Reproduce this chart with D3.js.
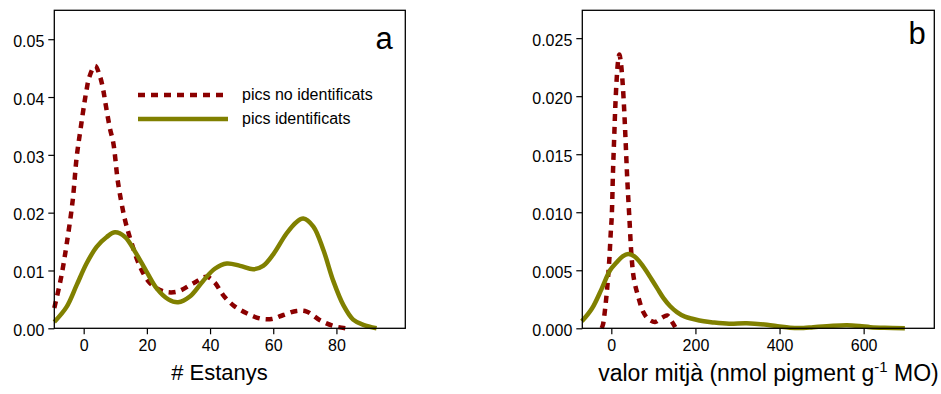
<!DOCTYPE html>
<html>
<head>
<meta charset="utf-8">
<script src="https://cdn.jsdelivr.net/npm/d3@7"></script>
<style>
  html, body { margin: 0; padding: 0; background: #fff; }
  svg { display: block; font-family: "Liberation Sans", Arial, sans-serif; }
</style>
</head>
<body>
<svg id="chart" width="941" height="394"></svg>
<script>
// ---- Panel a data (# Estanys) ----
const aNoIdX = [-9.3,-8,-7,-5.4,-3.5,-2.2,-0.95,0.2,0.9,1.8,3.6,5.2,6.2,6.9,8.3,9.4,10.9,13.1,15.2,17.8,21,25.2,29.4,34.7,38.9,41.5,44.2,47.3,51.6,55.8,59.5,63.2,67.4,70.6,74.8,79,83.2];
const aNoIdY = [0.0035,0.0066,0.0092,0.0145,0.022,0.0297,0.0346,0.0389,0.0412,0.0435,0.0454,0.0435,0.0412,0.0389,0.0346,0.032,0.0251,0.0187,0.0147,0.0107,0.0078,0.0064,0.0063,0.0078,0.0089,0.0079,0.0057,0.004,0.0026,0.0017,0.0016,0.0023,0.003,0.0029,0.0014,0.0004,0.0];
const aIdX = [-9.3,-5.4,-2.2,0.9,4.1,7.3,9.9,13.1,16.2,19.9,23.1,26.8,29.9,33.6,37.8,41.5,45.3,49.5,53.7,56.8,60,64.2,67.4,69.5,72.7,75.9,79,82.2,85.3,88.5,92.7];
const aIdY = [0.0011,0.0037,0.0075,0.0112,0.0141,0.0158,0.0166,0.0158,0.0133,0.0098,0.0069,0.0050,0.0045,0.0055,0.0082,0.0103,0.0112,0.0108,0.0102,0.0108,0.0128,0.0164,0.0184,0.0190,0.0176,0.0135,0.0082,0.0040,0.0015,0.0006,0.0];
const aXTicks = [0,20,40,60,80];
const aYTicks = [0,0.01,0.02,0.03,0.04,0.05];

// ---- Panel b data (valor mitjà) ----
const bNoIdX = [-23,-20,-15,-9.5,-4.8,-1.4,1,4,7.1,9.5,12.8,16,19,22,26.2,30.2,33.3,38,42.8,48.5,54,64.2,76,88,104,120,133,143.6,152];
const bNoIdY = [0,0.0003,0.0016,0.0036,0.0059,0.0082,0.0096,0.0135,0.0167,0.0191,0.0215,0.0230,0.0236,0.0231,0.0215,0.0191,0.0167,0.0128,0.0096,0.006,0.0042,0.0027,0.0014,0.0008,0.00055,0.0009,0.0011,0.0006,0.0001];
const bIdX = [-70,-46,-23,-3,13,27,40,55,68,82,96,110,124,140,156,175,195,220,243,280,322,370,400,425,457,480,520,560,590,616,650,698];
const bIdY = [0.0006,0.0017,0.0034,0.0050,0.0057,0.0062,0.0064,0.0062,0.0057,0.0050,0.0042,0.0034,0.0026,0.0019,0.0014,0.0010,0.0008,0.0006,0.0005,0.0004,0.00043,0.0003,0.00015,0.00005,0.00003,0.0001,0.0002,0.00026,0.0002,0.0001,0.00004,0.0];
const bXTicks = [0,200,400,600];
const bYTicks = [0,0.005,0.010,0.015,0.020,0.025];

const legendLabels = ["pics no identificats", "pics identificats"];
const colNoId = "#8b0000";
const colId = "#808000";

const svg = d3.select("#chart");

function panel(opts) {
  const {left, right, top, bottom, xDomain, yDomain, xTicks, yTicks, yFmt, series, letter, letterPos} = opts;
  const x = d3.scaleLinear().domain(xDomain).range([left, right]);
  const y = d3.scaleLinear().domain(yDomain).range([bottom, top]);
  const g = svg.append("g");

  const line = d3.line().x(d => x(d[0])).y(d => y(d[1])).curve(d3.curveCatmullRom.alpha(0.5));
  series.forEach(s => {
    const pts = s.xs.map((v, i) => [v, s.ys[i]]);
    g.append("path").datum(pts)
      .attr("fill", "none")
      .attr("stroke", s.color)
      .attr("stroke-width", 4.5)
      .attr("stroke-dasharray", s.dash ? "7,6" : null)
      .attr("d", line);
  });

  // frame
  g.append("rect").attr("x", left).attr("y", top)
    .attr("width", right - left).attr("height", bottom - top)
    .attr("fill", "none").attr("stroke", "#000").attr("stroke-width", 1.3);

  const xAxis = g.append("g").attr("transform", `translate(0,${bottom})`)
    .call(d3.axisBottom(x).tickValues(xTicks).tickSize(6).tickPadding(5).tickFormat(d3.format("d")));
  const yAxis = g.append("g").attr("transform", `translate(${left},0)`)
    .call(d3.axisLeft(y).tickValues(yTicks).tickSize(6).tickPadding(4).tickFormat(yFmt));
  [xAxis, yAxis].forEach(a => {
    a.select(".domain").remove();
    a.selectAll("line").attr("stroke", "#000").attr("stroke-width", 1.2);
    a.selectAll("text").attr("font-size", 16).attr("fill", "#000")
      .attr("font-family", "'Liberation Sans', Arial, sans-serif");
  });
  yAxis.selectAll("text").attr("dy", "0.45em");

  g.append("text").attr("x", letterPos[0]).attr("y", letterPos[1])
    .attr("font-size", 31).attr("text-anchor", "middle").text(letter);
  return {x, y, g};
}

const pa = panel({
  left: 54.3, right: 405.3, top: 10.3, bottom: 328.3,
  xDomain: [-9.3, 101.8], yDomain: [0, 0.055],
  xTicks: aXTicks, yTicks: aYTicks, yFmt: d3.format(".2f"),
  series: [
    {xs: aNoIdX, ys: aNoIdY, color: colNoId, dash: true},
    {xs: aIdX, ys: aIdY, color: colId, dash: false}
  ],
  letter: "a", letterPos: [384, 48.5]
});

const pb = panel({
  left: 582.3, right: 934.3, top: 10.3, bottom: 328.3,
  xDomain: [-69, 768], yDomain: [0, 0.0274],
  xTicks: bXTicks, yTicks: bYTicks, yFmt: d3.format(".3f"),
  series: [
    {xs: bNoIdX, ys: bNoIdY, color: colNoId, dash: true},
    {xs: bIdX, ys: bIdY, color: colId, dash: false}
  ],
  letter: "b", letterPos: [917, 43.5]
});

// axis titles
svg.append("text").attr("x", 219.5).attr("y", 380)
  .attr("font-size", 22).attr("text-anchor", "middle").text("# Estanys");

const bt = svg.append("text").attr("x", 768.5).attr("y", 381)
  .attr("font-size", 23).attr("text-anchor", "middle");
bt.append("tspan").text("valor mitjà (nmol pigment g");
bt.append("tspan").attr("font-size", 15).attr("dy", -9).text("-1");
bt.append("tspan").attr("dy", 9).text(" MO)");

// legend (panel a)
const lg = pa.g.append("g");
const legendRows = [
  {label: legendLabels[0], color: colNoId, dash: true, y: 95},
  {label: legendLabels[1], color: colId, dash: false, y: 119}
];
legendRows.forEach(r => {
  lg.append("line").attr("x1", 138).attr("x2", 228).attr("y1", r.y).attr("y2", r.y)
    .attr("stroke", r.color).attr("stroke-width", 4.5)
    .attr("stroke-dasharray", r.dash ? "7,6" : null);
  lg.append("text").attr("x", 242).attr("y", r.y + 5).attr("font-size", 16).text(r.label);
});
</script>
</body>
</html>
